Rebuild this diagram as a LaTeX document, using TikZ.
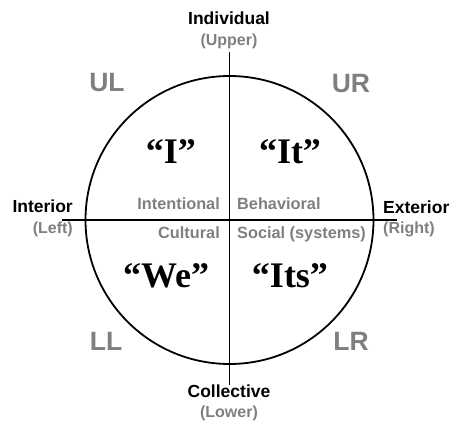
\documentclass[tikz,border=0pt]{standalone}
\usepackage{fontspec}
\setmainfont{Liberation Serif}
\setsansfont{Liberation Sans}
\definecolor{lbl}{HTML}{7F7F7F}
\begin{document}
\begin{tikzpicture}[x=1pt,y=-1pt,
  axis/.style={line width=1.6pt, black},
  pole/.style={font=\sffamily\bfseries\fontsize{17.5}{17.5}\selectfont, inner sep=0pt, text height=.716em, text depth=0pt},
  sub/.style={font=\sffamily\bfseries\fontsize{16}{16}\selectfont, text=lbl, inner sep=0pt, text height=.716em, text depth=0pt},
  quad/.style={font=\sffamily\bfseries\fontsize{26.5}{26.5}\selectfont, text=lbl, inner sep=0pt, text height=.716em, text depth=0pt},
  pron/.style={font=\rmfamily\bfseries\fontsize{36}{36}\selectfont, inner sep=0pt, text height=.662em, text depth=0pt},
  zone/.style={font=\sffamily\bfseries\fontsize{16.3}{16.3}\selectfont, text=lbl, inner sep=0pt, text height=.716em, text depth=0pt}]
\useasboundingbox (0,0) rectangle (451,423);
\node[circle, draw, line width=1.8pt, minimum size=288pt, inner sep=0pt] (c) at (229.5,220) {};
\coordinate (top) at (229.5,52);
\coordinate (bot) at (229.5,385);
\coordinate (lft) at (62,220);
\coordinate (rgt) at (397,220);
\draw[axis] (top) -- (bot);
\draw[axis] (lft) -- (rgt);
% poles
\node[pole] (ind) at (229,20.5) {Individual};
\node[sub] (upp) at (229,41.5) {(Upper)};
\node[pole] (col) at (229,394) {Collective};
\node[sub] (low) at (229,414) {(Lower)};
\node[pole, anchor=east] (int) at (73,209) {Interior};
\node[sub, anchor=east] (lefts) at (73,230) {(Left)};
\node[pole, anchor=west] (ext) at (383,210) {Exterior};
\node[sub, anchor=west] (rights) at (383,230) {(Right)};
% quadrant names
\node[quad] (ul) at (107,87.5) {UL};
\node[quad] (ur) at (351,88.5) {UR};
\node[quad] (ll) at (106,347) {LL};
\node[quad] (lr) at (351,347) {LR};
% pronouns
\node[pron] (i) at (171,160) {“I”};
\node[pron] (it) at (290,160) {“It”};
\node[pron] (we) at (166,284) {“We”};
\node[pron] (its) at (290,284) {“Its”};
% zones
\node[zone, anchor=east] (intent) at (220,206) {Intentional};
\node[zone, anchor=west] (behav) at (237,206) {Behavioral};
\node[zone, anchor=east] (cult) at (220,235) {Cultural};
\node[zone, anchor=west] (soc) at (237,235) {Social (systems)};
\end{tikzpicture}
\end{document}
